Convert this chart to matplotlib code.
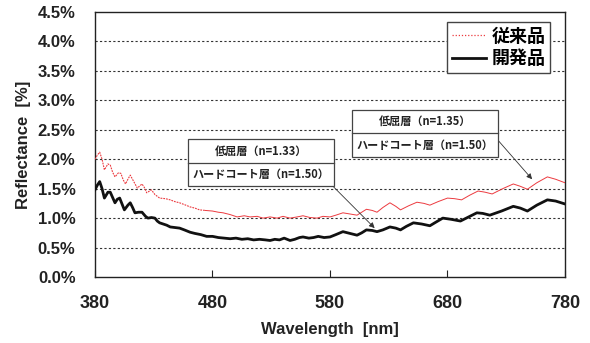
import matplotlib
matplotlib.use("Agg")
import matplotlib.pyplot as plt
from matplotlib.lines import Line2D
from matplotlib.patches import Rectangle

plt.rcParams['font.family'] = ['Liberation Sans', 'Noto Sans CJK JP', 'DejaVu Sans']

# ---- data ----
wl_dev = [380, 382, 384, 386, 388, 391, 393, 395, 397, 399, 401, 403, 405, 408, 410, 412, 414,
          417, 420, 423, 425, 428, 431, 433, 435, 438, 441, 444, 448, 452, 456, 461, 465, 470,
          475, 480, 485, 490, 495, 500, 505, 510, 515, 520, 525, 529, 533, 537, 541, 546, 550,
          554, 557, 562, 566, 570, 575, 580, 585, 591, 597, 603, 607, 611, 616, 620, 625, 631,
          636, 640, 645, 651, 658, 665, 670, 676, 683, 691, 698, 705, 710, 716, 726, 736, 742,
          748, 756, 765, 772, 780]
refl_dev = [1.48, 1.56, 1.62, 1.50, 1.34, 1.44, 1.44, 1.35, 1.26, 1.32, 1.34, 1.24, 1.14, 1.22,
            1.26, 1.18, 1.09, 1.10, 1.10, 1.03, 1.00, 1.01, 1.00, 0.95, 0.92, 0.90, 0.88, 0.85,
            0.84, 0.83, 0.80, 0.76, 0.74, 0.72, 0.69, 0.69, 0.67, 0.66, 0.65, 0.66, 0.64, 0.65,
            0.63, 0.64, 0.63, 0.62, 0.64, 0.63, 0.66, 0.62, 0.64, 0.67, 0.68, 0.66, 0.67, 0.69,
            0.67, 0.68, 0.72, 0.77, 0.74, 0.71, 0.75, 0.80, 0.79, 0.77, 0.80, 0.85, 0.83, 0.80,
            0.86, 0.92, 0.90, 0.87, 0.93, 1.00, 0.98, 0.95, 1.02, 1.09, 1.08, 1.05, 1.12, 1.20,
            1.17, 1.12, 1.22, 1.31, 1.29, 1.24]

wl_conv = [380, 382, 384, 386, 388, 391, 393, 395, 397, 400, 402, 404, 406, 408, 410, 413, 416,
           420, 422, 424, 428, 431, 435, 440, 444, 448, 452, 456, 461, 465, 469, 474, 480, 485,
           489, 495, 501, 507, 512, 518, 523, 529, 535, 540, 546, 552, 557, 563, 569, 574, 580,
           585, 591, 597, 603, 607, 611, 616, 620, 625, 631, 636, 640, 647, 654, 660, 665, 672,
           680, 686, 692, 699, 706, 712, 718, 727, 736, 742, 748, 756, 765, 772, 780]
refl_conv = [2.00, 2.07, 2.12, 2.00, 1.82, 1.92, 1.90, 1.78, 1.70, 1.77, 1.76, 1.65, 1.58, 1.66,
             1.73, 1.62, 1.51, 1.58, 1.52, 1.43, 1.48, 1.40, 1.34, 1.33, 1.31, 1.28, 1.26, 1.23,
             1.19, 1.17, 1.14, 1.13, 1.12, 1.10, 1.09, 1.06, 1.02, 1.04, 1.02, 1.03, 1.00, 1.02,
             1.00, 1.03, 1.00, 1.02, 1.04, 1.01, 1.00, 1.03, 1.02, 1.05, 1.09, 1.07, 1.05, 1.10,
             1.15, 1.13, 1.10, 1.18, 1.26, 1.20, 1.14, 1.21, 1.27, 1.25, 1.22, 1.28, 1.34, 1.33,
             1.31, 1.39, 1.46, 1.44, 1.41, 1.50, 1.58, 1.54, 1.49, 1.60, 1.70, 1.66, 1.60]

series_names = ['従来品', '開発品']
x_ticks = [380, 480, 580, 680, 780]
y_ticks = [0.0, 0.5, 1.0, 1.5, 2.0, 2.5, 3.0, 3.5, 4.0, 4.5]
box1_lines = ['低屈層（n=1.33）', 'ハードコート層（n=1.50）']
box2_lines = ['低屈層（n=1.35）', 'ハードコート層（n=1.50）']
arrow1_target = (618, 0.83)
arrow2_target = (752, 1.66)
dotted_until = 470  # the conventional curve looks dotted in the steep short-wave part

# ---- figure ----
fig = plt.figure(figsize=(5.9, 3.43), dpi=100)
ax = fig.add_axes([95/590, 1-277/343, 470/590, 265/343])

red = '#ec3a3f'
n_dot = sum(1 for w in wl_conv if w <= dotted_until)
ax.plot(wl_conv[:n_dot + 1], refl_conv[:n_dot + 1], color=red, lw=0.8,
        ls=(0, (1.6, 0.9)), zorder=3)
ax.plot(wl_conv[n_dot:], refl_conv[n_dot:], color=red, lw=0.7, zorder=3)
ax.plot(wl_dev, refl_dev, color='#111111', lw=2.0, zorder=4)

ax.set_xlim(380, 780)
ax.set_ylim(0, 4.5)
ax.set_xticks(x_ticks)
ax.set_yticks(y_ticks)
ax.set_xticklabels([str(v) for v in x_ticks], fontsize=13, fontweight='bold', color='#222222')
ax.set_yticklabels([f'{v:.1f}%' for v in y_ticks], fontsize=12, fontweight='bold', color='#222222')
ax.tick_params(axis='x', direction='in', length=5, width=0.8, pad=13, color='#222222')
ax.tick_params(axis='y', length=0, pad=14)
for s in ax.spines.values():
    s.set_linewidth(1.0)
    s.set_color('#222222')

for v in y_ticks[1:-1]:
    ax.axhline(v, color='#333333', lw=0.8, ls=(0, (2, 2)), zorder=1)

ax.set_xlabel('Wavelength  [nm]', fontsize=12, fontweight='bold', color='#222222', labelpad=7)
ax.set_ylabel('Reflectance  [%]', fontsize=12, fontweight='bold', color='#222222', labelpad=5)

# legend
handles = [Line2D([], [], color=red, lw=0.9, ls=(0, (1, 1.5))),
           Line2D([], [], color='#111111', lw=2.0)]
leg = ax.legend(handles, series_names, loc='upper right', bbox_to_anchor=(0.968, 0.962),
                borderaxespad=0, frameon=True, fancybox=False, handlelength=1.9,
                handletextpad=0.3, borderpad=0.25, labelspacing=0.2,
                prop={'family': ['Noto Sans CJK JP'], 'weight': 'bold', 'size': 13})
leg.get_frame().set_edgecolor('#444444')
leg.get_frame().set_linewidth(1.0)
leg.get_frame().set_alpha(1)
leg.set_zorder(6)


def draw_box(x0, x1, yb, ym, yt, lines, src, target):
    ax.add_patch(Rectangle((x0, yb), x1 - x0, yt - yb, transform=ax.transAxes,
                           facecolor='white', edgecolor='#444444', lw=0.9, zorder=6))
    ax.plot([x0, x1], [ym, ym], transform=ax.transAxes, color='#444444', lw=0.9, zorder=7)
    xc = (x0 + x1) / 2
    ax.text(xc, (ym + yt) / 2, lines[0], transform=ax.transAxes, ha='center', va='center',
            fontsize=8, family=['Noto Sans CJK JP'], weight='bold', zorder=8, color='#222222')
    ax.text(xc, (yb + ym) / 2, lines[1], transform=ax.transAxes, ha='center', va='center',
            fontsize=8, family=['Noto Sans CJK JP'], weight='bold', zorder=8, color='#222222')
    ax.annotate('', xy=target, xycoords='data', xytext=src, textcoords='axes fraction',
                arrowprops=dict(arrowstyle='-|>', lw=0.6, color='#333333', mutation_scale=8,
                                shrinkA=0, shrinkB=0), zorder=5)


draw_box(0.198, 0.5085, 0.343, 0.430, 0.521, box1_lines, (0.506, 0.343), arrow1_target)
draw_box(0.547, 0.857, 0.453, 0.543, 0.630, box2_lines, (0.857, 0.517), arrow2_target)

fig.savefig('out.png', dpi=100)
